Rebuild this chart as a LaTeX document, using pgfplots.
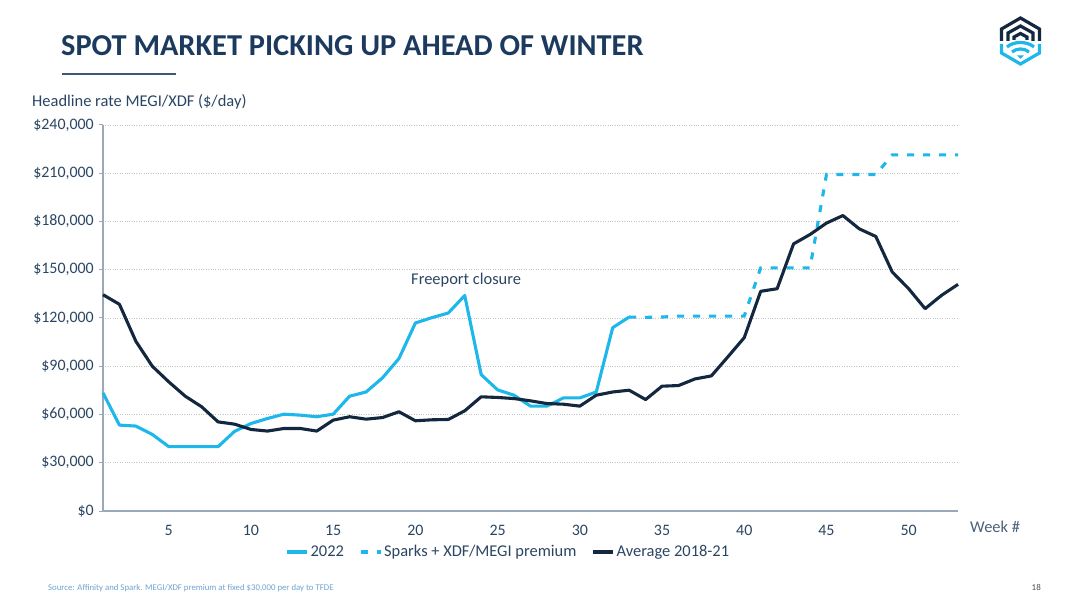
\documentclass[border=0pt]{standalone}
\usepackage{fontspec}
\setmainfont{Carlito}
\usepackage{pgfplots}
\pgfplotsset{compat=1.18}
\definecolor{lb}{HTML}{1DB7EC}
\definecolor{dk}{HTML}{13283F}
\definecolor{ttl}{HTML}{1B3A5E}
\definecolor{txt}{HTML}{2A4562}
\definecolor{axl}{HTML}{9AA9B9}
\definecolor{grd}{HTML}{C4C4C4}
\definecolor{src}{HTML}{6FA3D0}
\begin{document}
\begin{tikzpicture}[x=1bp,y=1bp]
\path[use as bounding box] (0bp,0bp) rectangle (1080bp,595bp);
\begin{axis}[at={(103bp,84bp)}, anchor=south west, scale only axis,
 width=855bp, height=386bp,
 xmin=1, xmax=53, ymin=0, ymax=240000,
 axis x line*=bottom, axis y line*=left,
 axis line style={axl, line width=1.3bp},
 xtick={5,10,...,50}, xticklabels={5,10,15,20,25,30,35,40,45,50},
 ytick={0,30000,...,240000},
 yticklabels={\$0,{\$30,000},{\$60,000},{\$90,000},{\$120,000},{\$150,000},{\$180,000},{\$210,000},{\$240,000}},
 scaled y ticks=false,
 xtick style={draw=none}, ytick style={axl, line width=1bp},
 tick align=outside, major tick length=4bp,
 ymajorgrids, grid style={grd, dotted, line width=0.9bp},
 ticklabel style={font=\fontsize{16}{18}\selectfont, text=txt},
 xticklabel style={inner sep=0pt, anchor=north, yshift=-10bp},
 yticklabel style={inner sep=0pt, anchor=east, xshift=-5bp},
 clip=false,
 legend style={at={(0.474,-0.106)}, anchor=center, draw=none, fill=none,
   legend columns=3, font=\fontsize{16.5}{18}\selectfont, text=txt,
   /tikz/every even column/.append style={column sep=13bp}},
 legend cell align=left,
 legend image code/.code={\draw[#1, line width=3.2bp] (0bp,0bp) -- (20bp,0bp);},
]
\addplot[lb, line width=3.1bp, line join=round] table {
1 73400
2 53400
3 52800
4 47600
5 40000
6 40000
7 40000
8 40000
9 49500
10 54400
11 57500
12 60200
13 59600
14 58600
15 60200
16 71400
17 74000
18 82800
19 94800
20 116900
21 120200
22 123100
23 134000
24 84800
25 75300
26 72000
27 65200
28 65200
29 70300
30 70300
31 74000
32 114000
33 120600
};
\addlegendentry{2022}
\addplot[lb, line width=3.1bp, dash pattern=on 7bp off 9bp] table {
33 120600
34 120400
35 120600
36 121200
37 121200
38 121200
39 121200
40 121200
41 151200
42 151200
43 151200
44 151200
45 209200
46 209200
47 209200
48 209200
49 221400
50 221400
51 221400
52 221400
53 221400
};
\addlegendentry{Sparks + XDF/MEGI premium}
\addplot[dk, line width=3.1bp, line join=round] table {
1 134500
2 128500
3 105500
4 90000
5 80300
6 71400
7 64800
8 55400
9 54000
10 50700
11 49700
12 51300
13 51300
14 49700
15 56500
16 58600
17 57100
18 58100
19 61700
20 56100
21 56700
22 56900
23 62300
24 71000
25 70600
26 69900
27 68500
28 66800
29 66400
30 65200
31 72000
32 74000
33 75100
34 69300
35 77600
36 78000
37 82100
38 84000
39 95800
40 107800
41 136600
42 138200
43 166100
44 171900
45 179000
46 183700
47 175400
48 170700
49 148600
50 138200
51 125800
52 134100
53 140900
};
\addlegendentry{Average 2018-21}
\end{axis}
% texts
\node[anchor=base west, inner sep=0, text=ttl, font=\fontsize{30.5}{34}\selectfont\bfseries] at (61bp,539bp) {SPOT MARKET PICKING UP AHEAD OF WINTER};
\draw[color=ttl!85, line width=2bp] (62bp,521bp) -- (176bp,521bp);
\node[anchor=base west, inner sep=0, text=txt, font=\fontsize{16.5}{18}\selectfont] at (32bp,488.5bp) {Headline rate MEGI/XDF (\$/day)};
\node[anchor=base west, inner sep=0, text=txt, font=\fontsize{16.5}{18}\selectfont] at (411bp,310bp) {Freeport closure};
\node[anchor=base west, inner sep=0, text=txt!85, font=\fontsize{16.5}{18}\selectfont] at (970bp,62bp) {Week \#};
\node[anchor=base west, inner sep=0, text=src, font=\fontsize{8.8}{10}\selectfont] at (48bp,5bp) {Source: Affinity and Spark. MEGI/XDF premium at fixed \$30,000 per day to TFDE};
\node[anchor=base east, inner sep=0, text=black!70, font=\fontsize{9}{10}\selectfont] at (1041bp,5bp) {18};
% logo
\begin{scope}[shift={(0bp,595bp)}, yscale=-1, line width=3.2bp, line join=miter]
\draw[dk] (1001.5,41) -- (1001.5,29) -- (1020.5,18) -- (1039.5,29) -- (1039.5,41);
\draw[dk] (1008,41) -- (1008,33) -- (1020.5,26) -- (1033,33) -- (1033,41);
\draw[dk] (1014,40) -- (1014,37) -- (1020.5,33.5) -- (1027,37) -- (1027,40);
\draw[lb] (1001.5,44) -- (1001.5,53) -- (1020.5,64) -- (1039.5,53) -- (1039.5,44);
\draw[lb] (1007,47) .. controls (1014,41) and (1027,41) .. (1034,47);
\draw[lb] (1012,52) .. controls (1017,48) and (1024,48) .. (1029,52);
\fill[lb] (1017,55.5) -- (1024,55.5) -- (1020.5,59) -- cycle;
\end{scope}
\end{tikzpicture}
\end{document}
